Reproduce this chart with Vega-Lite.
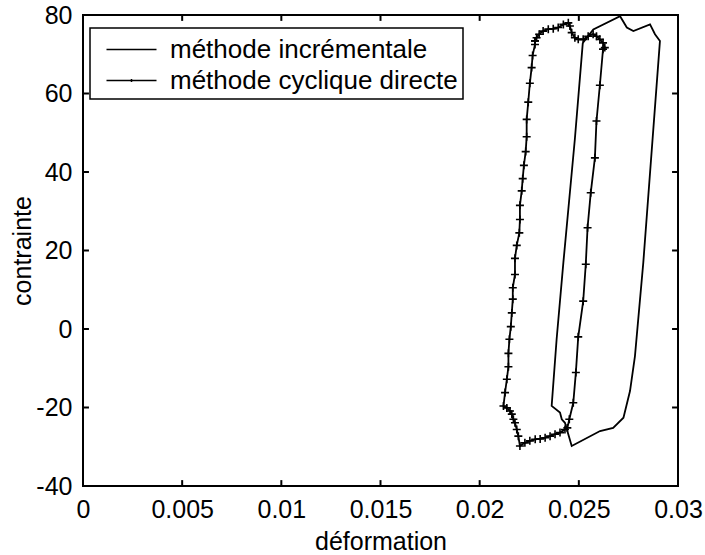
{
  "$schema": "https://vega.github.io/schema/vega-lite/v6.json",
  "width": 595,
  "height": 471,
  "autosize": {"type": "none"},
  "padding": {"left": 83, "top": 15, "right": 27, "bottom": 69},
  "background": "white",
  "config": {
    "view": {"stroke": "black", "strokeWidth": 2},
    "font": "Liberation Sans",
    "axis": {
      "domain": false,
      "grid": false,
      "ticks": false,
      "tickSize": 0,
      "labelFont": "Liberation Sans",
      "labelFontSize": 25,
      "labelColor": "black",
      "labelFlush": false,
      "labelOverlap": false,
      "titleFont": "Liberation Sans",
      "titleFontSize": 25,
      "titleFontWeight": "normal",
      "titleColor": "black"
    }
  },
  "datasets": {
    "xt": [{"v": 0}, {"v": 0.005}, {"v": 0.01}, {"v": 0.015}, {"v": 0.02}, {"v": 0.025}, {"v": 0.03}],
    "yt": [{"v": -40}, {"v": -20}, {"v": 0}, {"v": 20}, {"v": 40}, {"v": 60}, {"v": 80}],
    "incr": [
      {"s": "méthode incrémentale", "i": 1, "x": 0.0252, "y": 72.9},
      {"s": "méthode incrémentale", "i": 2, "x": 0.0248, "y": 48.4},
      {"s": "méthode incrémentale", "i": 3, "x": 0.02422, "y": 16.9},
      {"s": "méthode incrémentale", "i": 4, "x": 0.02388, "y": -2.6},
      {"s": "méthode incrémentale", "i": 5, "x": 0.02363, "y": -19.6},
      {"s": "méthode incrémentale", "i": 6, "x": 0.02405, "y": -21.3},
      {"s": "méthode incrémentale", "i": 7, "x": 0.02414, "y": -23.0},
      {"s": "méthode incrémentale", "i": 8, "x": 0.0243, "y": -23.9},
      {"s": "méthode incrémentale", "i": 9, "x": 0.02464, "y": -29.8},
      {"s": "méthode incrémentale", "i": 10, "x": 0.02607, "y": -26.0},
      {"s": "méthode incrémentale", "i": 11, "x": 0.02673, "y": -25.2},
      {"s": "méthode incrémentale", "i": 12, "x": 0.02725, "y": -22.6},
      {"s": "méthode incrémentale", "i": 13, "x": 0.02758, "y": -15.8},
      {"s": "méthode incrémentale", "i": 14, "x": 0.02783, "y": -6.9},
      {"s": "méthode incrémentale", "i": 15, "x": 0.02825, "y": 16.9},
      {"s": "méthode incrémentale", "i": 16, "x": 0.02909, "y": 73.4},
      {"s": "méthode incrémentale", "i": 17, "x": 0.02884, "y": 75.1},
      {"s": "méthode incrémentale", "i": 18, "x": 0.02859, "y": 77.6},
      {"s": "méthode incrémentale", "i": 19, "x": 0.02775, "y": 75.9},
      {"s": "méthode incrémentale", "i": 20, "x": 0.02742, "y": 76.8},
      {"s": "méthode incrémentale", "i": 21, "x": 0.02708, "y": 79.7},
      {"s": "méthode incrémentale", "i": 22, "x": 0.02573, "y": 76.3},
      {"s": "méthode incrémentale", "i": 23, "x": 0.0252, "y": 72.9}
    ],
    "cyc": [
      {"s": "méthode cyclique directe", "i": 1, "x": 0.02279, "y": 73.4},
      {"s": "méthode cyclique directe", "i": 2, "x": 0.02279, "y": 72.5},
      {"s": "méthode cyclique directe", "i": 3, "x": 0.02267, "y": 69.7},
      {"s": "méthode cyclique directe", "i": 4, "x": 0.02262, "y": 66.6},
      {"s": "méthode cyclique directe", "i": 5, "x": 0.02253, "y": 62.6},
      {"s": "méthode cyclique directe", "i": 6, "x": 0.02245, "y": 57.8},
      {"s": "méthode cyclique directe", "i": 7, "x": 0.02237, "y": 53.4},
      {"s": "méthode cyclique directe", "i": 8, "x": 0.02237, "y": 49.0},
      {"s": "méthode cyclique directe", "i": 9, "x": 0.02232, "y": 45.2},
      {"s": "méthode cyclique directe", "i": 10, "x": 0.02223, "y": 41.7},
      {"s": "méthode cyclique directe", "i": 11, "x": 0.02217, "y": 38.3},
      {"s": "méthode cyclique directe", "i": 12, "x": 0.02212, "y": 35.2},
      {"s": "méthode cyclique directe", "i": 13, "x": 0.02203, "y": 31.5},
      {"s": "méthode cyclique directe", "i": 14, "x": 0.02203, "y": 27.9},
      {"s": "méthode cyclique directe", "i": 15, "x": 0.022, "y": 24.5},
      {"s": "méthode cyclique directe", "i": 16, "x": 0.02187, "y": 21.3},
      {"s": "méthode cyclique directe", "i": 17, "x": 0.02178, "y": 18.0},
      {"s": "méthode cyclique directe", "i": 18, "x": 0.02178, "y": 13.9},
      {"s": "méthode cyclique directe", "i": 19, "x": 0.02167, "y": 10.5},
      {"s": "méthode cyclique directe", "i": 20, "x": 0.02167, "y": 7.6},
      {"s": "méthode cyclique directe", "i": 21, "x": 0.02162, "y": 4.1},
      {"s": "méthode cyclique directe", "i": 22, "x": 0.02157, "y": 0.6},
      {"s": "méthode cyclique directe", "i": 23, "x": 0.0215, "y": -2.6},
      {"s": "méthode cyclique directe", "i": 24, "x": 0.02145, "y": -6.2},
      {"s": "méthode cyclique directe", "i": 25, "x": 0.02145, "y": -9.6},
      {"s": "méthode cyclique directe", "i": 26, "x": 0.02137, "y": -12.8},
      {"s": "méthode cyclique directe", "i": 27, "x": 0.02128, "y": -16.2},
      {"s": "méthode cyclique directe", "i": 28, "x": 0.0212, "y": -19.6},
      {"s": "méthode cyclique directe", "i": 29, "x": 0.02137, "y": -20.1},
      {"s": "méthode cyclique directe", "i": 30, "x": 0.02153, "y": -20.9},
      {"s": "méthode cyclique directe", "i": 31, "x": 0.02162, "y": -21.7},
      {"s": "méthode cyclique directe", "i": 32, "x": 0.0217, "y": -23.0},
      {"s": "méthode cyclique directe", "i": 33, "x": 0.02178, "y": -23.9},
      {"s": "méthode cyclique directe", "i": 34, "x": 0.02187, "y": -25.6},
      {"s": "méthode cyclique directe", "i": 35, "x": 0.02195, "y": -27.3},
      {"s": "méthode cyclique directe", "i": 36, "x": 0.02203, "y": -29.8},
      {"s": "méthode cyclique directe", "i": 37, "x": 0.02228, "y": -29.0},
      {"s": "méthode cyclique directe", "i": 38, "x": 0.02253, "y": -28.5},
      {"s": "méthode cyclique directe", "i": 39, "x": 0.0228, "y": -28.1},
      {"s": "méthode cyclique directe", "i": 40, "x": 0.02305, "y": -28.0},
      {"s": "méthode cyclique directe", "i": 41, "x": 0.0233, "y": -27.7},
      {"s": "méthode cyclique directe", "i": 42, "x": 0.02355, "y": -27.3},
      {"s": "méthode cyclique directe", "i": 43, "x": 0.0238, "y": -26.8},
      {"s": "méthode cyclique directe", "i": 44, "x": 0.02405, "y": -26.4},
      {"s": "méthode cyclique directe", "i": 45, "x": 0.0243, "y": -25.6},
      {"s": "méthode cyclique directe", "i": 46, "x": 0.02442, "y": -25.2},
      {"s": "méthode cyclique directe", "i": 47, "x": 0.02452, "y": -23.0},
      {"s": "méthode cyclique directe", "i": 48, "x": 0.02472, "y": -18.8},
      {"s": "méthode cyclique directe", "i": 49, "x": 0.02485, "y": -11.1},
      {"s": "méthode cyclique directe", "i": 50, "x": 0.02497, "y": -2.0},
      {"s": "méthode cyclique directe", "i": 51, "x": 0.02522, "y": 7.1},
      {"s": "méthode cyclique directe", "i": 52, "x": 0.02535, "y": 16.5},
      {"s": "méthode cyclique directe", "i": 53, "x": 0.02544, "y": 25.8},
      {"s": "méthode cyclique directe", "i": 54, "x": 0.0256, "y": 34.7},
      {"s": "méthode cyclique directe", "i": 55, "x": 0.02581, "y": 43.6},
      {"s": "méthode cyclique directe", "i": 56, "x": 0.02589, "y": 53.0},
      {"s": "méthode cyclique directe", "i": 57, "x": 0.02606, "y": 62.1},
      {"s": "méthode cyclique directe", "i": 58, "x": 0.02622, "y": 71.3},
      {"s": "méthode cyclique directe", "i": 59, "x": 0.02631, "y": 71.7},
      {"s": "méthode cyclique directe", "i": 60, "x": 0.02622, "y": 72.9},
      {"s": "méthode cyclique directe", "i": 61, "x": 0.02606, "y": 73.8},
      {"s": "méthode cyclique directe", "i": 62, "x": 0.02589, "y": 74.6},
      {"s": "méthode cyclique directe", "i": 63, "x": 0.02572, "y": 75.1},
      {"s": "méthode cyclique directe", "i": 64, "x": 0.02547, "y": 74.6},
      {"s": "méthode cyclique directe", "i": 65, "x": 0.02522, "y": 73.8},
      {"s": "méthode cyclique directe", "i": 66, "x": 0.02497, "y": 73.8},
      {"s": "méthode cyclique directe", "i": 67, "x": 0.0248, "y": 74.2},
      {"s": "méthode cyclique directe", "i": 68, "x": 0.02464, "y": 75.5},
      {"s": "méthode cyclique directe", "i": 69, "x": 0.02455, "y": 77.2},
      {"s": "méthode cyclique directe", "i": 70, "x": 0.02447, "y": 78.0},
      {"s": "méthode cyclique directe", "i": 71, "x": 0.02422, "y": 77.6},
      {"s": "méthode cyclique directe", "i": 72, "x": 0.02396, "y": 76.8},
      {"s": "méthode cyclique directe", "i": 73, "x": 0.02371, "y": 76.5},
      {"s": "méthode cyclique directe", "i": 74, "x": 0.02346, "y": 76.4},
      {"s": "méthode cyclique directe", "i": 75, "x": 0.0232, "y": 75.9},
      {"s": "méthode cyclique directe", "i": 76, "x": 0.023, "y": 75.1},
      {"s": "méthode cyclique directe", "i": 77, "x": 0.02287, "y": 74.2},
      {"s": "méthode cyclique directe", "i": 78, "x": 0.02279, "y": 73.4}
    ]
  },
  "layer": [
    {
      "data": {"name": "incr"},
      "mark": {"type": "line", "strokeWidth": 1.8, "interpolate": "linear"},
      "encoding": {
        "x": {"field": "x", "type": "quantitative",
          "scale": {"domain": [0, 0.03], "nice": false, "zero": false},
          "axis": {"orient": "bottom", "values": [0, 0.005, 0.01, 0.015, 0.02, 0.025, 0.03], "labelExpr": "'' + datum.value", "labelPadding": 11, "title": "déformation", "titlePadding": 7}},
        "y": {"field": "y", "type": "quantitative",
          "scale": {"domain": [-40, 80], "nice": false, "zero": false},
          "axis": {"orient": "left", "values": [-40, -20, 0, 20, 40, 60, 80], "labelExpr": "'' + datum.value", "labelPadding": 11, "title": "contrainte", "titlePadding": 0}},
        "order": {"field": "i", "type": "quantitative"},
        "color": {"field": "s", "type": "nominal",
          "scale": {"domain": ["méthode incrémentale", "méthode cyclique directe"], "range": ["black", "black"]},
          "legend": {
            "orient": "none", "legendX": 7, "legendY": 13, "title": null,
            "strokeColor": "black", "fillColor": "white", "padding": 5,
            "labelFont": "Liberation Sans", "labelFontSize": 26, "labelColor": "black", "labelLimit": 600,
            "symbolSize": 977, "symbolStrokeWidth": 1.5, "symbolStrokeColor": "black",
            "symbolType": "M-1.6,0H1.6",
            "symbolOffset": 20, "labelOffset": 22, "rowPadding": 1,
            "encode": {
              "legend": {"update": {"strokeWidth": {"value": 1.5}}},
              "symbols": {"update": {"shape": {"signal": "datum.value === 'méthode cyclique directe' ? 'M-1.6,0H1.6M0,-0.1V0.1' : 'M-1.6,0H1.6'"}}}
            }
          }}
      }
    },
    {
      "data": {"name": "cyc"},
      "mark": {"type": "line", "strokeWidth": 1.8, "interpolate": "linear"},
      "encoding": {
        "x": {"field": "x", "type": "quantitative", "axis": null},
        "y": {"field": "y", "type": "quantitative", "axis": null},
        "order": {"field": "i", "type": "quantitative"},
        "color": {"field": "s", "type": "nominal"}
      }
    },
    {
      "data": {"name": "cyc"},
      "mark": {"type": "point", "shape": "M-1,0H1M0,-1V1", "size": 64, "filled": false, "stroke": "black", "strokeWidth": 1.6, "opacity": 1},
      "encoding": {
        "x": {"field": "x", "type": "quantitative", "axis": null},
        "y": {"field": "y", "type": "quantitative", "axis": null}
      }
    },
    {
      "data": {"name": "xt"},
      "mark": {"type": "rule", "color": "black", "strokeWidth": 2},
      "encoding": {
        "x": {"field": "v", "type": "quantitative", "axis": null},
        "y": {"datum": -40, "type": "quantitative", "axis": null},
        "y2": {"datum": -38.5}
      }
    },
    {
      "data": {"name": "xt"},
      "mark": {"type": "rule", "color": "black", "strokeWidth": 2},
      "encoding": {
        "x": {"field": "v", "type": "quantitative", "axis": null},
        "y": {"datum": 80, "type": "quantitative", "axis": null},
        "y2": {"datum": 78.5}
      }
    },
    {
      "data": {"name": "yt"},
      "mark": {"type": "rule", "color": "black", "strokeWidth": 2},
      "encoding": {
        "y": {"field": "v", "type": "quantitative", "axis": null},
        "x": {"datum": 0, "type": "quantitative", "axis": null},
        "x2": {"datum": 0.0003}
      }
    },
    {
      "data": {"name": "yt"},
      "mark": {"type": "rule", "color": "black", "strokeWidth": 2},
      "encoding": {
        "y": {"field": "v", "type": "quantitative", "axis": null},
        "x": {"datum": 0.03, "type": "quantitative", "axis": null},
        "x2": {"datum": 0.0297}
      }
    }
  ],
  "resolve": {"axis": {"x": "independent", "y": "independent"}}
}
